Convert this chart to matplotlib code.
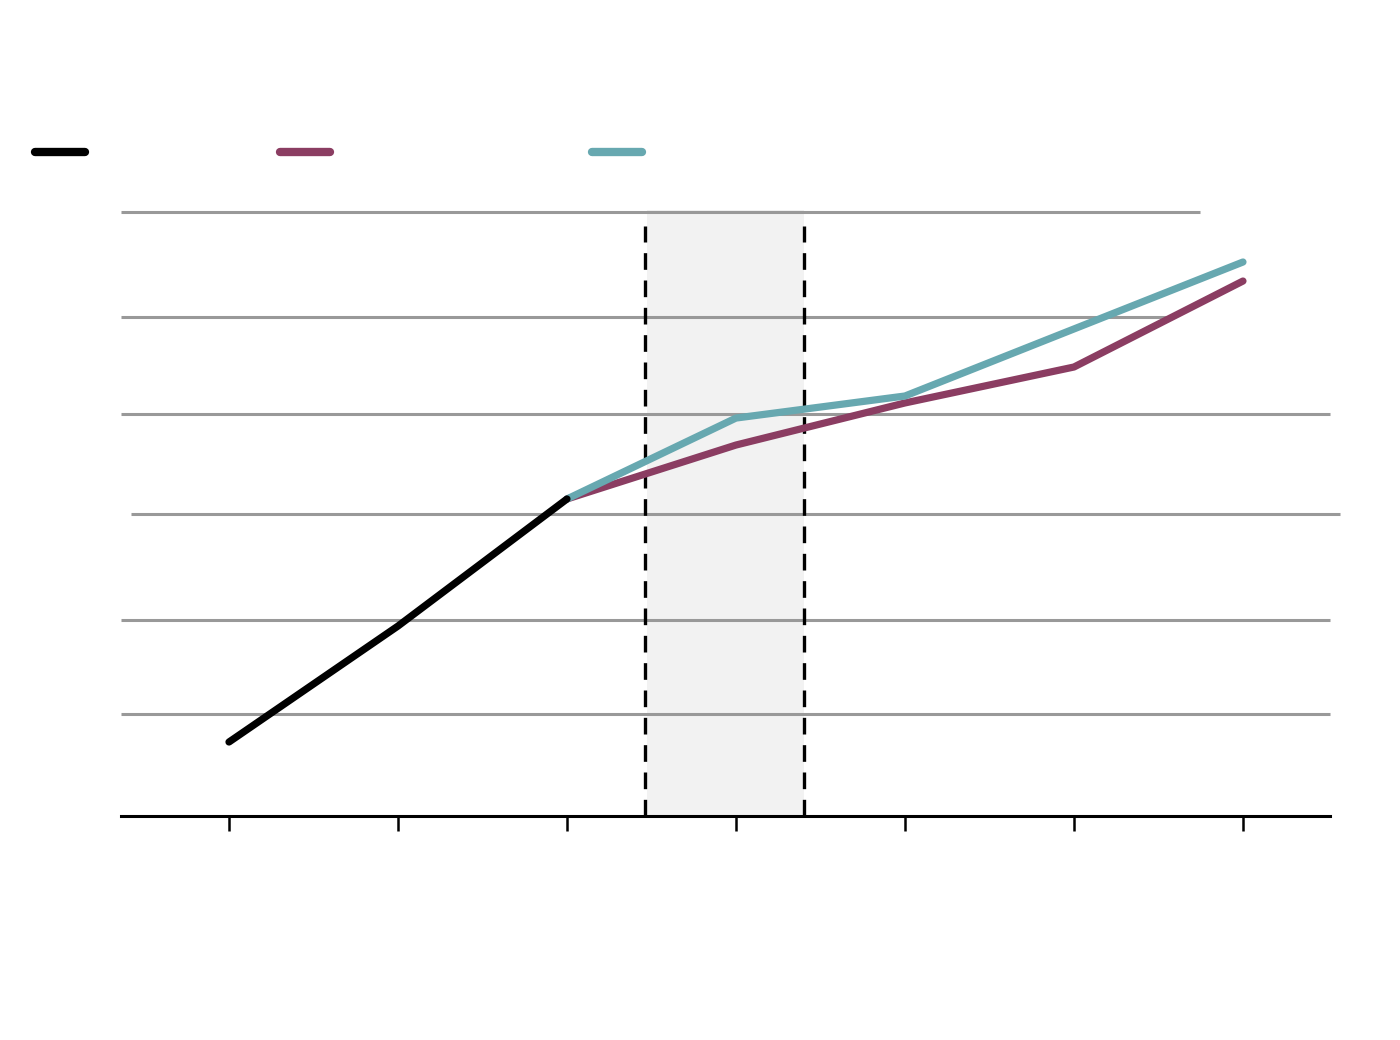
import matplotlib
matplotlib.use('Agg')
import matplotlib.pyplot as plt

# x positions are period indices 0..6, y in chart units
hist_x = [0, 1, 2]
hist_y = [0.735, 1.887, 3.149]

low_x = [2, 3, 4, 5, 6]
low_y = [3.149, 3.685, 4.103, 4.46, 5.314]

high_x = [2, 3, 4, 5, 6]
high_y = [3.149, 3.953, 4.172, 4.838, 5.503]

# gridlines: level, start, end (x units)
grid_levels = [1.013, 1.947, 3.0, 3.993, 4.957, 6.0]
grid_start = [-0.639, -0.639, -0.580, -0.639, -0.639, -0.639]
grid_end = [6.515, 6.515, 6.574, 6.515, 5.556, 5.746]

shade_from, shade_to = 2.473, 3.402
tick_pos = [0, 1, 2, 3, 4, 5, 6]

purple = '#8B3D62'
teal = '#67A8B0'

fig = plt.figure(figsize=(14, 10.4), dpi=100)
ax = fig.add_axes([121 / 1400, (1040 - 816) / 1040, (1330 - 121) / 1400, (816 - 200) / 1040])
ax.set_xlim(-0.639, 6.515)
ax.set_ylim(0, 6.119)

ax.axvspan(shade_from, shade_to, ymax=6.02 / 6.119, color='#F2F2F2', lw=0, zorder=0)

for lvl, a, b in zip(grid_levels, grid_start, grid_end):
    ax.plot([a, b], [lvl, lvl], color='#999999', lw=2.2, zorder=1, clip_on=False,
            solid_capstyle='butt')

for xv in [shade_from - 0.01, shade_to]:
    ax.plot([xv, xv], [0, 5.86], color='black', lw=2.4, ls=(0, (5, 3.2)), zorder=2)

ax.plot(low_x, low_y, color=purple, lw=5.2, solid_capstyle='round', zorder=3)
ax.plot(high_x, high_y, color=teal, lw=5.2, solid_capstyle='round', zorder=4)
ax.plot(hist_x, hist_y, color='black', lw=5.2, solid_capstyle='round', zorder=5)

for s in ['top', 'right', 'left']:
    ax.spines[s].set_visible(False)
ax.spines['bottom'].set_linewidth(2.2)
ax.set_xticks(tick_pos)
ax.set_xticklabels([])
ax.set_yticks([])
ax.tick_params(axis='x', length=11, width=1.8, direction='out')

# legend swatches without text
legend_x = [(35, 85), (280, 330), (592, 642)]
legend_c = ['black', purple, teal]
for (a, b), c in zip(legend_x, legend_c):
    fig.add_artist(plt.Line2D([a / 1400, b / 1400], [1 - 152 / 1040, 1 - 152 / 1040],
                              color=c, lw=6, solid_capstyle='round'))

fig.savefig('out.png', dpi=100)
